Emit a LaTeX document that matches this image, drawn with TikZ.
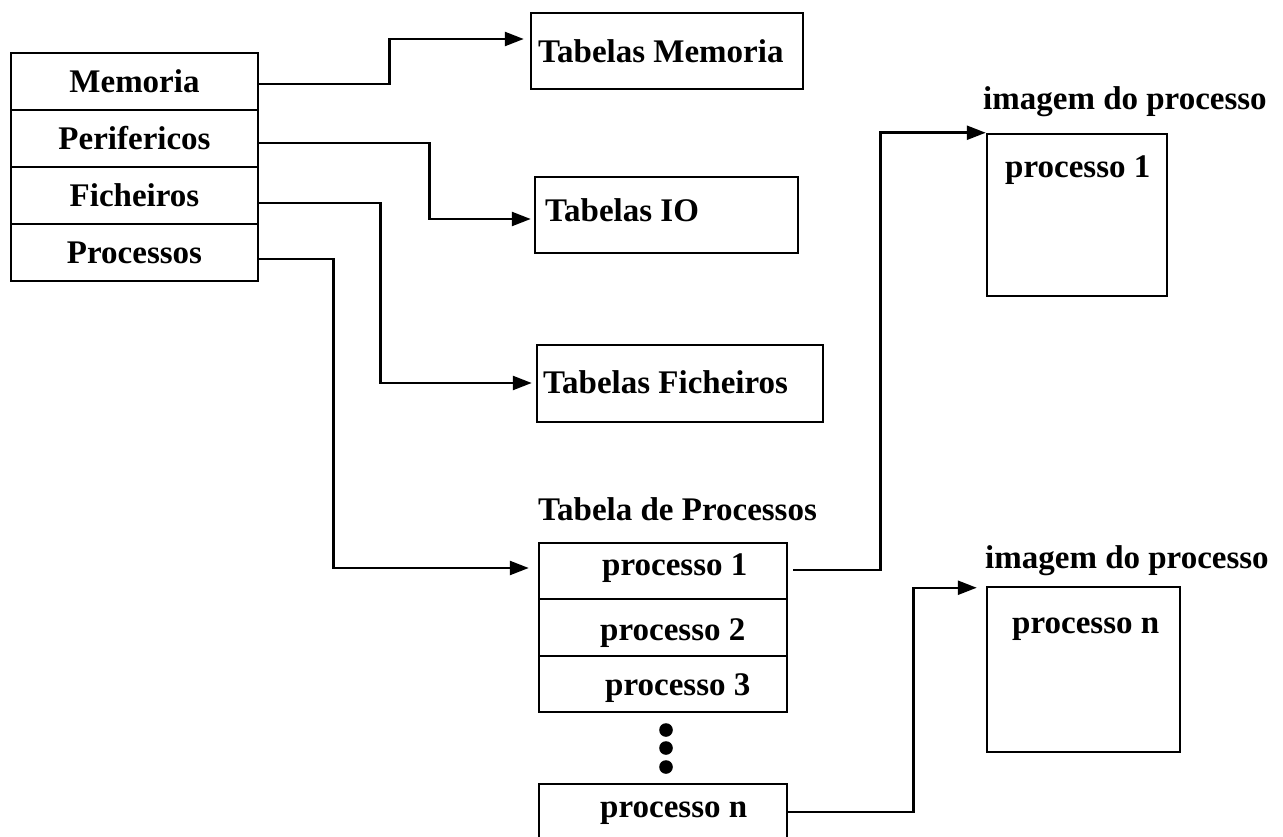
\documentclass[tikz,border=0pt]{standalone}
\usepackage{fontspec}
\setmainfont{Liberation Serif}
\usetikzlibrary{arrows.meta,calc}
\begin{document}
\begin{tikzpicture}[x=1pt,y=-1pt,
  every node/.style={font=\fontsize{33}{40}\selectfont\bfseries, inner sep=0pt},
  frame/.style={draw, line width=2.5pt, rectangle},
  conn/.style={line width=2.5pt, -{Triangle[length=19pt,width=14pt]}},
  txt/.style={anchor=base west}]
\useasboundingbox (0,0) rectangle (1283,837);

% kernel table
\node[frame, minimum width=247pt, minimum height=57pt] (mem) at (134.5,81.5)  {Memoria};
\node[frame, minimum width=247pt, minimum height=57pt] (per) at (134.5,138.5) {Perifericos};
\node[frame, minimum width=247pt, minimum height=57pt] (fic) at (134.5,195.5) {Ficheiros};
\node[frame, minimum width=247pt, minimum height=57pt] (pro) at (134.5,252.5) {Processos};

% resource tables
\node[frame, minimum width=272pt, minimum height=76pt] (tmem) at (667,51) {};
\node[frame, minimum width=263pt, minimum height=76pt] (tio)  at (666.5,215) {};
\node[frame, minimum width=286pt, minimum height=77pt] (tfic) at (680,383.5) {};
\node[txt] (ltmem) at (538,63)  {Tabelas Memoria};
\node[txt] (ltio)  at (545,222) {Tabelas IO};
\node[txt] (ltfic) at (543,393) {Tabelas Ficheiros};

% process table
\node[txt] (ltp) at (538,520) {Tabela de Processos};
\node[frame, minimum width=248pt, minimum height=56pt] (p1) at (663,571)   {};
\node[frame, minimum width=248pt, minimum height=57pt] (p2) at (663,627.5) {};
\node[frame, minimum width=248pt, minimum height=56pt] (p3) at (663,684)   {};
\node[frame, minimum width=248pt, minimum height=56pt] (pn) at (663,812)   {};
\node[txt] (lp1) at (602,575) {processo 1};
\node[txt] (lp2) at (600,640) {processo 2};
\node[txt] (lp3) at (605,695) {processo 3};
\node[txt] (lpn) at (600,817) {processo n};
\fill (666,730) circle[radius=6.8pt];
\fill (666,748) circle[radius=6.8pt];
\fill (666,767) circle[radius=6.8pt];

% process images
\node[txt] (limg1) at (983,110) {imagem do processo};
\node[frame, minimum width=180pt, minimum height=162pt] (img1) at (1077,215) {};
\node[txt] (li1) at (1005,178) {processo 1};
\node[txt] (limgn) at (985,568) {imagem do processo};
\node[frame, minimum width=193pt, minimum height=165pt] (imgn) at (1083.5,669.5) {};
\node[txt] (lin) at (1012,633) {processo n};

% connectors
\draw[conn] ($(mem.east)+(0,2.5)$) -- ++(130,0) |- ($(tmem.west)+(-6,-12)$);
\draw[conn] ($(per.east)+(0,4.5)$) -- ++(170,0) |- ($(tio.west)+(-3,4)$);
\draw[conn] ($(fic.east)+(0,7.5)$) -- ++(121,0) |- ($(tfic.west)+(-4,-0.5)$);
\draw[conn] ($(pro.east)+(0,6.5)$) -- ++(74,0)  |- ($(p1.west)+(-9,-3)$);
\draw[conn] ($(p1.east)+(5,-1)$)   -- ++(87,0)  |- (img1.north west);
\draw[conn] (pn.east)              -- ++(125,0) |- ($(imgn.north west)+(-9,2)$);
\end{tikzpicture}
\end{document}
